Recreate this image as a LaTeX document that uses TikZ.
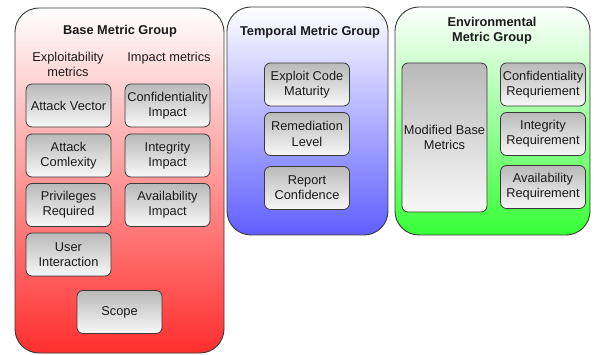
\documentclass[tikz,border=0pt]{standalone}
\usepackage{fontspec}
\setmainfont{Liberation Sans}
\definecolor{txt}{HTML}{1A1A1A}
\definecolor{edge}{HTML}{3A3A3A}
\definecolor{boxtop}{HTML}{B9B9B9}
\definecolor{boxbot}{HTML}{F8F8F8}
\definecolor{redbot}{HTML}{FF2E2E}
\definecolor{bluebot}{HTML}{5F5FFF}
\definecolor{greenbot}{HTML}{36FF36}
\begin{document}
\begin{tikzpicture}[x=1pt,y=-1pt,
  every node/.style={font=\fontsize{12.8}{15.3}\selectfont, text=txt, align=center, inner sep=0pt},
  groupbox/.style={draw=edge, line width=0.9pt, rounded corners=24pt, top color=white},
  metricbox/.style={draw=edge, line width=0.8pt, rounded corners=6pt, top color=boxtop, bottom color=boxbot, minimum width=85pt, minimum height=43pt},
  grouptitle/.style={font=\fontsize{12.8}{15.3}\selectfont\bfseries}
]
\useasboundingbox (0,0) rectangle (594,355);
% groups
\node[groupbox, bottom color=redbot, minimum width=209pt, minimum height=345pt] (base) at (119.5,180.5) {};
\node[groupbox, bottom color=bluebot, minimum width=161pt, minimum height=228pt] (temp) at (307.5,121) {};
\node[groupbox, bottom color=greenbot, minimum width=195pt, minimum height=228pt] (env) at (492.5,121) {};
% titles
\node[grouptitle] (bt) at (120,31) {Base Metric Group};
\node (expl) at (68,64.7) {Exploitability\\metrics};
\node (imp) at (169,57.7) {Impact metrics};
\node[grouptitle] (tt) at (310,32) {Temporal Metric Group};
\node[grouptitle] (et) at (492,30.8) {Environmental\\Metric Group};
% base metrics
\node[metricbox] (av) at (68.5,105.5) {Attack Vector};
\node[metricbox] (ac) at (68.5,155.5) {Attack\\Comlexity};
\node[metricbox] (pr) at (68.5,205) {Privileges\\Required};
\node[metricbox] (ui) at (68.5,254.5) {User\\Interaction};
\node[metricbox] (ci) at (167.5,105.5) {Confidentiality\\Impact};
\node[metricbox] (ii) at (167.5,155.5) {Integrity\\Impact};
\node[metricbox] (ai) at (167.5,205) {Availability\\Impact};
\node[metricbox] (sc) at (119.5,312) {Scope};
% temporal
\node[metricbox] (ecm) at (307,84.5) {Exploit Code\\Maturity};
\node[metricbox] (rl) at (307,134) {Remediation\\Level};
\node[metricbox] (rc) at (307,188) {Report\\Confidence};
% environmental
\node[metricbox, minimum height=149pt] (mbm) at (444.5,137.5) {Modified Base\\Metrics};
\node[metricbox] (cr) at (543,84.5) {Confidentiality\\Requriement};
\node[metricbox] (ir) at (543,134) {Integrity\\Requirement};
\node[metricbox] (ar) at (543,187) {Availability\\Requirement};
\end{tikzpicture}
\end{document}
